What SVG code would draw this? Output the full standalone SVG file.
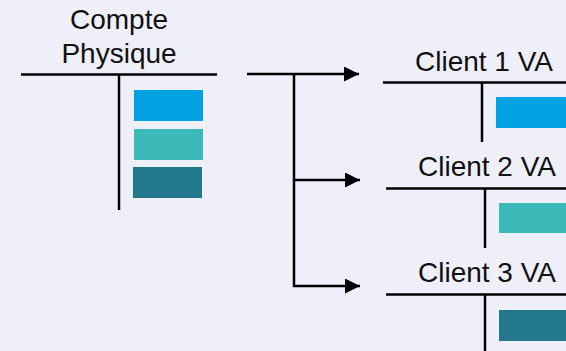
<svg xmlns="http://www.w3.org/2000/svg" width="566" height="351" viewBox="0 0 566 351">
<style>
.ln{stroke:#000;stroke-width:2.5;fill:none}
.t{font-family:"Liberation Sans",Arial,sans-serif;font-size:28px;fill:#111;text-anchor:middle}
.c1{fill:#00A2E2}.c2{fill:#3CB9B9}.c3{fill:#24788C}
</style>
<defs>
<marker id="ah" markerWidth="16" markerHeight="16" refX="15" refY="7.5" orient="auto" markerUnits="userSpaceOnUse">
<path d="M0,0 L15,7.5 L0,15 Z" fill="#000"/>
</marker>
</defs>
<rect width="566" height="351" fill="#EFEFFA"/>
<g id="compte-physique">
<text class="t" x="119" y="29">Compte</text>
<text class="t" x="119" y="63">Physique</text>
<line class="ln" x1="21" y1="74.5" x2="217" y2="74.5"/>
<line class="ln" x1="119" y1="74.5" x2="119" y2="210"/>
<rect class="c1" x="134" y="90" width="69" height="31"/>
<rect class="c2" x="134" y="129" width="69" height="31"/>
<rect class="c3" x="133" y="167" width="69" height="31"/>
</g>
<g id="client1">
<text class="t" x="484" y="71">Client 1 VA</text>
<line class="ln" x1="383" y1="82.5" x2="566" y2="82.5"/>
<line class="ln" x1="482" y1="82.5" x2="482" y2="142"/>
<rect class="c1" x="496" y="97" width="70" height="31"/>
</g>
<g id="client2">
<text class="t" x="487" y="176">Client 2 VA</text>
<line class="ln" x1="386" y1="188.5" x2="566" y2="188.5"/>
<line class="ln" x1="485" y1="188.5" x2="485" y2="248"/>
<rect class="c2" x="499" y="203" width="67" height="30"/>
</g>
<g id="client3">
<text class="t" x="487" y="282">Client 3 VA</text>
<line class="ln" x1="386" y1="294.5" x2="566" y2="294.5"/>
<line class="ln" x1="485" y1="294.5" x2="485" y2="351"/>
<rect class="c3" x="499" y="310" width="67" height="31"/>
</g>
<g id="connectors">
<line class="ln" x1="247" y1="74" x2="359" y2="74" marker-end="url(#ah)"/>
<path class="ln" d="M294,74 V286 H360" marker-end="url(#ah)"/>
<line class="ln" x1="294" y1="180" x2="360" y2="180" marker-end="url(#ah)"/>
</g>
</svg>
